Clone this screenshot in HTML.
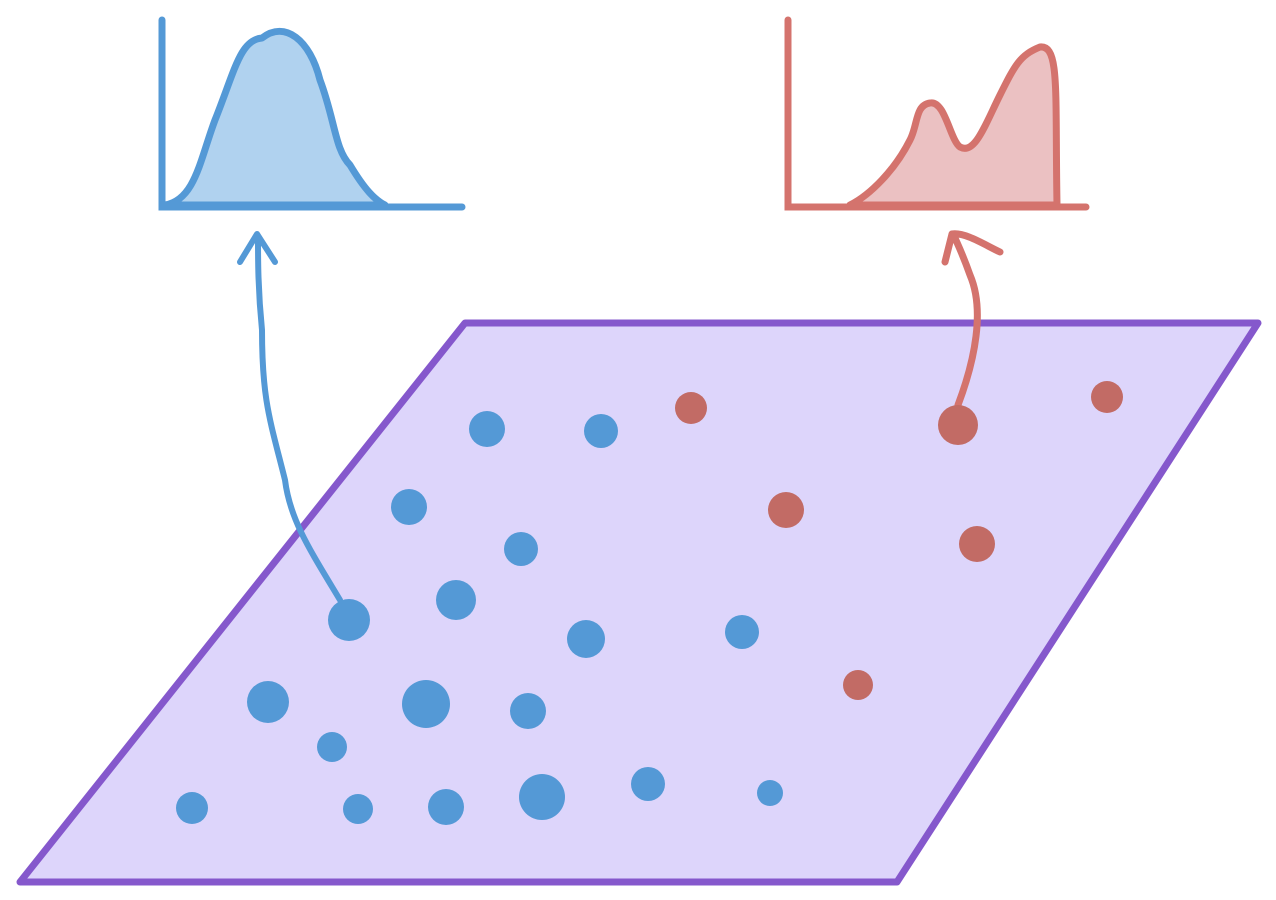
<!DOCTYPE html>
<html><head><meta charset="utf-8"><style>html,body{margin:0;padding:0;background:#fff}svg{display:block}</style></head>
<body>
<svg id="fig" width="1276" height="900" viewBox="0 0 1276 900" xmlns="http://www.w3.org/2000/svg">
<polygon points="465,323 1258,323 897,882 20,882" fill="#ddd5fb" stroke="#8558cc" stroke-width="7" stroke-linejoin="round"/>
<g>
<path d="M165,205 C195,200 200,160 215,120 C235,70 240,40 262,38 C285,20 310,40 320,80 C335,120 335,150 350,165 C365,190 375,200 385,205 Z" fill="#b0d2ef" stroke="#5499d6" stroke-width="7" stroke-linejoin="round"/>
<path d="M162,20 L162,207 L462,207" fill="none" stroke="#5499d6" stroke-width="7" stroke-linecap="round"/>
</g>
<g>
<path d="M850,205 C870,195 895,170 910,140 C918,125 915,105 930,103 C945,100 950,140 960,147 C975,155 985,125 1000,95 C1015,65 1020,55 1040,47 C1060,45 1055,90 1057,205 Z" fill="#ebc1c2" stroke="#d4736d" stroke-width="7" stroke-linejoin="round"/>
<path d="M788,20 L788,207 L1086,207" fill="none" stroke="#d4736d" stroke-width="7" stroke-linecap="round"/>
</g>
<path d="M340,600 C310,550 290,520 285,480 C270,420 262,400 262,330 C258,290 258,260 258,238 M240,262 L257,234 L275,262" fill="none" stroke="#5499d6" stroke-width="6" stroke-linecap="round" stroke-linejoin="round"/>
<path d="M958,405 C975,360 985,310 970,275 C963,255 958,245 955,238 M945,262 L952,234 C965,232 985,245 1000,252" fill="none" stroke="#d4736d" stroke-width="7" stroke-linecap="round" stroke-linejoin="round"/>
<g id="dots"></g>
</svg>
<script>
const blueX=[487,601,409,521,456,349,586,742,268,426,528,332,192,358,446,542,648,770];
const blueY=[429,431,507,549,600,620,639,632,702,704,711,747,808,809,807,797,784,793];
const blueR=[18,17,18,17,20,21,19,17,21,24,18,15,16,15,18,23,17,13];
const redX=[691,958,1107,786,977,858];
const redY=[408,425,397,510,544,685];
const redR=[16,20,16,18,18,15];
const g=document.getElementById('dots');
const NS='http://www.w3.org/2000/svg';
function addDot(x,y,r,color,kind,i){
  const c=document.createElementNS(NS,'circle');
  c.setAttribute('cx',x);c.setAttribute('cy',y);c.setAttribute('r',r);c.setAttribute('fill',color);
  
  
  g.appendChild(c);
}
blueX.forEach((x,i)=>addDot(x,blueY[i],blueR[i],'#5499d6','blue',i));
redX.forEach((x,i)=>addDot(x,redY[i],redR[i],'#c26b65','red',i));
</script>
</body></html>
